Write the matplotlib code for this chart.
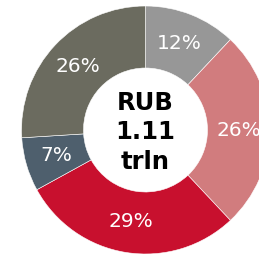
import matplotlib
matplotlib.use("Agg")
import matplotlib.pyplot as plt
import numpy as np

labels = ["12%", "26%", "29%", "7%", "26%"]
values = [12, 26, 29, 7, 26]
colors = ["#979797", "#d17c7e", "#c8102e", "#4e5f6d", "#6b6b5f"]
center_text = "RUB\n1.11\ntrln"

W, H = 259, 257
fig = plt.figure(figsize=(W / 100, H / 100), dpi=100)
cx, cy, r = 145.5, 130, 124
ax = fig.add_axes([(cx - r) / W, (H - cy - r) / H, 2 * r / W, 2 * r / H])

wedges, texts = ax.pie(values, colors=colors, startangle=90, counterclock=False,
                       radius=1, wedgeprops=dict(width=0.5, edgecolor="white", linewidth=0.4),
                       frame=True)
ax.set_xlim(-1, 1)
ax.set_ylim(-1, 1)
ax.axis("off")

total = sum(values)
ang = 90.0
for v, lab in zip(values, labels):
    span = 360.0 * v / total
    mid = np.deg2rad(ang - span / 2)
    ax.text(0.75 * np.cos(mid), 0.75 * np.sin(mid), lab, ha="center", va="center",
            color="white", fontsize=14.5, family="DejaVu Sans")
    ang -= span

ax.text(0, -0.02, center_text, ha="center", va="center", fontsize=17.5,
        fontweight="bold", color="black", linespacing=1.3, family="DejaVu Sans")

fig.savefig("out.png", dpi=100)
